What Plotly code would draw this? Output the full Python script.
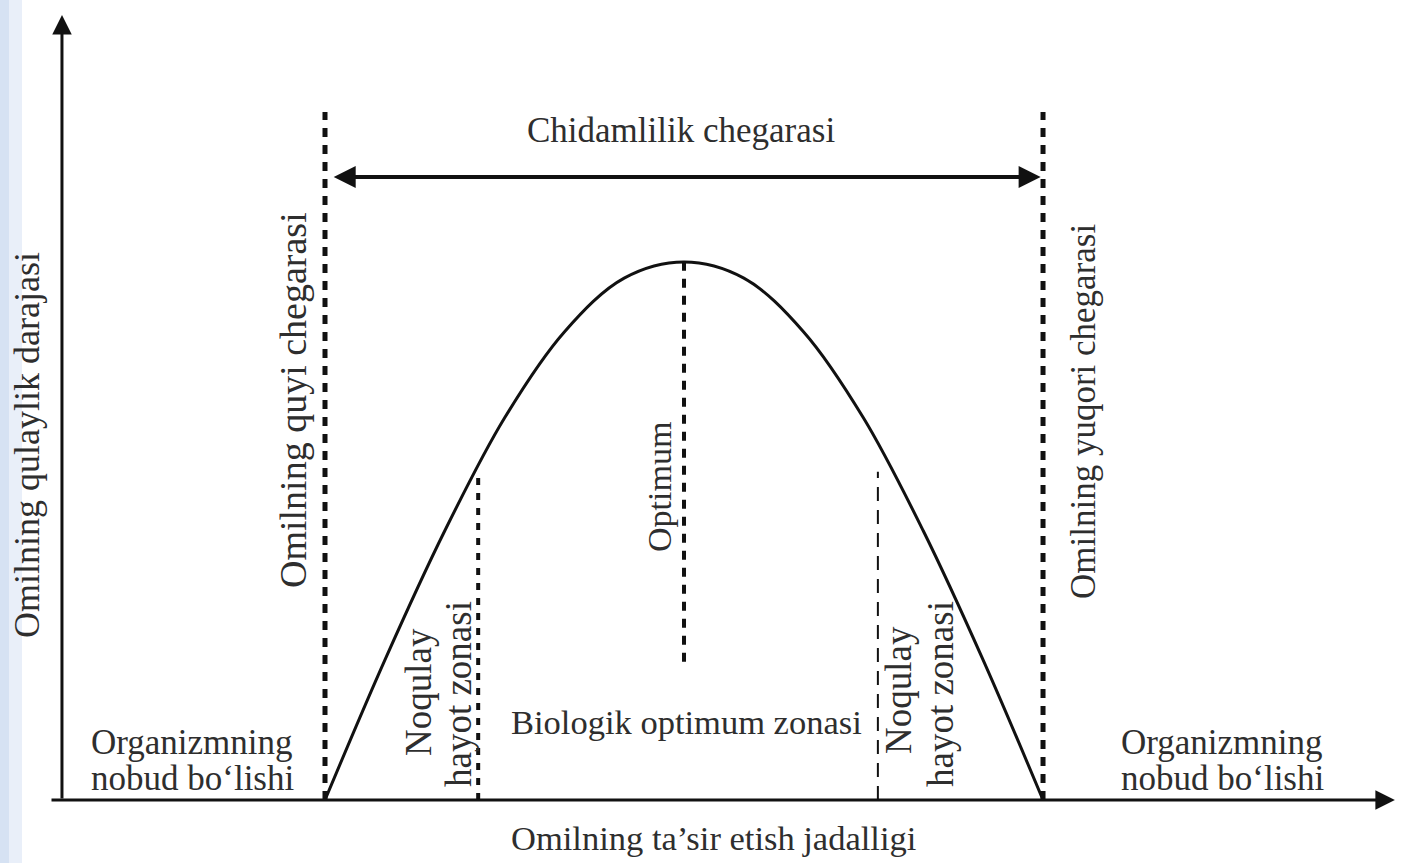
import plotly.graph_objects as go

# ---- values (x: factor intensity, y: comfort level) ----
curve_x = [20, 25, 30, 35, 40, 45, 50, 55, 60, 65, 70, 75, 80]
curve_y = [0, 26, 50, 71, 87, 97, 100, 97, 87, 71, 50, 26, 0]

lower_limit = 20.0     # Omilning quyi chegarasi
upper_limit = 80.0     # Omilning yuqori chegarasi
optimum = 50.0         # Optimum
zone_left = 32.8       # end of left unfavourable zone
zone_right = 66.2      # start of right unfavourable zone
zone_top = 61.0        # curve height at zone borders
limit_top = 127.9      # top of tolerance-limit lines
tolerance_y = 115.8    # height of the "Chidamlilik chegarasi" arrow
optimum_bottom = 25.7  # lower end of the optimum line

axis_x0 = -1.98        # y-axis position
axis_x_end = 109.4     # x-axis arrow tip
axis_x_start = -2.98
axis_y_top = 145.9     # y-axis arrow tip

labels = {
    "tolerance": "Chidamlilik chegarasi",
    "lower": "Omilning quyi chegarasi",
    "upper": "Omilning yuqori chegarasi",
    "ylabel": "Omilning qulaylik darajasi",
    "xlabel": "Omilning ta\u2019sir etish jadalligi",
    "optimum": "Optimum",
    "zone1": "Noqulay",
    "zone2": "hayot zonasi",
    "bio": "Biologik optimum zonasi",
    "death1": "Organizmning",
    "death2": "nobud bo\u2018lishi",
}

W, H = 1401, 863
FONT = "Liberation Serif"
TXT = "#2e2e2e"
INK = "#111111"

fig = go.Figure()
fig.add_trace(go.Scatter(x=curve_x, y=curve_y, mode="lines",
                         line=dict(color=INK, width=3, shape="spline", smoothing=1.0),
                         hoverinfo="skip", showlegend=False))

shapes = []
# faint scan tint on left edge
shapes.append(dict(type="rect", xref="paper", yref="paper", x0=0, x1=9 / W, y0=0, y1=1,
                   fillcolor="#d6e2f3", line_width=0, layer="below"))
shapes.append(dict(type="rect", xref="paper", yref="paper", x0=9 / W, x1=22 / W, y0=0, y1=1,
                   fillcolor="#e9eff9", line_width=0, layer="below"))

def vline(x, y0, y1, width, dash):
    shapes.append(dict(type="line", xref="x", yref="y", x0=x, x1=x, y0=y0, y1=y1,
                       line=dict(color=INK, width=width, dash=dash)))

vline(lower_limit, 0, limit_top, 5, "9px,8px")
vline(upper_limit, 0, limit_top, 5, "9px,8px")
vline(optimum, optimum_bottom, 100, 4, "9px,8px")
vline(zone_left, 0, zone_top, 4, "7px,8px")
vline(zone_right, 0, zone_top, 2, "14px,9px")

annotations = []
# axes as arrows
annotations.append(dict(x=axis_x0, y=axis_y_top, ax=axis_x0, ay=0, xref="x", yref="y",
                        axref="x", ayref="y", text="", showarrow=True, arrowhead=2,
                        arrowsize=1.3, arrowwidth=3, arrowcolor=INK))
annotations.append(dict(x=axis_x_end, y=0, ax=axis_x_start, ay=0, xref="x", yref="y",
                        axref="x", ayref="y", text="", showarrow=True, arrowhead=2,
                        arrowsize=1.3, arrowwidth=3, arrowcolor=INK))
# tolerance double arrow
annotations.append(dict(x=upper_limit - 0.2, y=tolerance_y, ax=lower_limit + 0.6, ay=tolerance_y,
                        xref="x", yref="y", axref="x", ayref="y", text="", showarrow=True,
                        arrowhead=2, startarrowhead=2, arrowside="end+start",
                        arrowsize=1.1, startarrowsize=1.1, arrowwidth=4, arrowcolor=INK))

def text(s, px, py, size, angle=0):
    annotations.append(dict(text=s, xref="paper", yref="paper", x=px / W, y=1 - py / H,
                            xanchor="center", yanchor="middle", showarrow=False,
                            textangle=angle,
                            font=dict(family=FONT, size=size, color=TXT)))

text(labels["tolerance"], 681, 130, 35)
text(labels["lower"], 293, 400, 38, -90)
text(labels["upper"], 1083, 412, 35, -90)
text(labels["ylabel"], 27, 445, 36, -90)
text(labels["optimum"], 659, 487, 34, -90)
text(labels["zone1"], 418, 692, 37, -90)
text(labels["zone2"], 458, 694, 37, -90)
text(labels["zone1"], 898, 690, 37, -90)
text(labels["zone2"], 940, 694, 37, -90)
text(labels["bio"], 686, 722, 34.5)
text(labels["death1"], 192, 742, 35)
text(labels["death2"], 192, 778, 35)
text(labels["death1"], 1222, 742, 35)
text(labels["death2"], 1222, 778, 35)
text(labels["xlabel"], 713, 838, 34.5)

sx = 11.967  # px per x unit
sy = 5.38    # px per y unit
fig.update_layout(
    width=W, height=H,
    margin=dict(l=0, r=0, t=0, b=0),
    paper_bgcolor="white", plot_bgcolor="white",
    xaxis=dict(range=[lower_limit - 325 / sx, lower_limit + (W - 325) / sx],
               visible=False, fixedrange=True),
    yaxis=dict(range=[-(H - 800) / sy, 800 / sy], visible=False, fixedrange=True),
    shapes=shapes, annotations=annotations, showlegend=False,
)

fig.write_html("out.html", config={"displayModeBar": False},
               post_script="document.body.style.margin='0';document.body.style.overflow='hidden';")
